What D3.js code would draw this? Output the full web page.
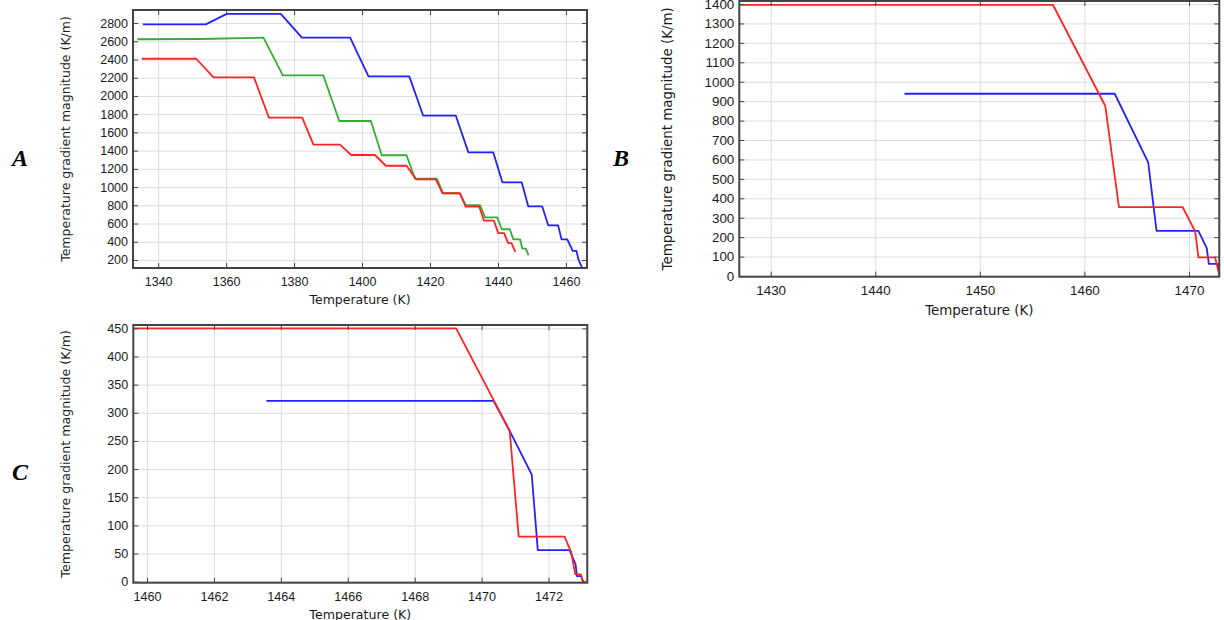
<!DOCTYPE html>
<html>
<head>
<meta charset="utf-8">
<script src="https://d3js.org/d3.v7.min.js"></script>
<style>
    body { margin:0; background:#fff; }
    svg { font-family:"DejaVu Sans", sans-serif; }
    .grid line { stroke:#dedede; stroke-width:1px; }
    .grid path { display:none; }
    .ticks line { stroke:#444; }
    .ticks path { display:none; }
    .ticks text { fill:#1a1a1a; }
    .frame { fill:none; stroke:#444; stroke-width:2px; }
    .series { fill:none; stroke-width:1.8px; stroke-linejoin:round; }
    .letter { font-family:"Liberation Serif", serif; font-weight:bold; font-style:italic; font-size:24px; }
</style>
</head>
<body>
<script>
// ---- panel A ----
const aXTicks = [1340, 1360, 1380, 1400, 1420, 1440, 1460];
const aYTicks = [200, 400, 600, 800, 1000, 1200, 1400, 1600, 1800, 2000, 2200, 2400, 2600, 2800];
const aBlue = [[1335.5, 2785], [1354.0, 2785], [1360.2, 2900], [1376.1, 2900], [1382.3, 2640], [1396.5, 2640],
    [1401.9, 2215], [1413.9, 2215], [1418.0, 1783], [1427.6, 1783], [1431.3, 1381], [1438.6, 1381],
    [1441.3, 1052], [1447.0, 1052], [1448.9, 789], [1453.0, 789], [1454.8, 580], [1457.7, 580],
    [1458.7, 427], [1460.4, 427], [1462.0, 300], [1463.1, 300], [1463.7, 205], [1464.7, 120]];
const aGreen = [[1333.9, 2622], [1352.4, 2625], [1371.0, 2639], [1376.7, 2226], [1388.6, 2226], [1393.3, 1725],
    [1402.6, 1725], [1405.8, 1349], [1413.1, 1349], [1415.6, 1092], [1422.0, 1092], [1423.9, 932],
    [1428.8, 932], [1430.5, 803], [1434.7, 803], [1436.2, 668], [1439.8, 668], [1441.1, 537],
    [1443.5, 537], [1444.5, 427], [1446.5, 427], [1447.2, 324], [1448.2, 324], [1449.0, 251]];
const aRed = [[1335.2, 2408], [1351.2, 2408], [1356.3, 2204], [1368.2, 2204], [1372.6, 1761], [1382.4, 1761],
    [1385.7, 1465], [1393.5, 1465], [1396.8, 1352], [1403.8, 1352], [1407.0, 1234], [1413.1, 1234],
    [1415.9, 1085], [1421.7, 1085], [1423.7, 932], [1428.8, 932], [1430.5, 785], [1434.5, 785],
    [1435.9, 631], [1438.8, 631], [1440.1, 495], [1441.8, 495], [1443.0, 385], [1444.0, 385], [1445.1, 290]];

// ---- panel B ----
const bXTicks = [1430, 1440, 1450, 1460, 1470];
const bYTicks = [0, 100, 200, 300, 400, 500, 600, 700, 800, 900, 1000, 1100, 1200, 1300, 1400];
const bBlue = [[1442.8, 938], [1462.9, 938], [1466.1, 585], [1466.9, 232], [1470.9, 232], [1471.7, 143],
    [1471.9, 62], [1472.8, 62], [1473.0, -5]];
const bRed = [[1427.0, 1395], [1457.0, 1395], [1462.0, 875], [1463.3, 354], [1469.4, 354], [1470.6, 228],
    [1470.9, 96], [1472.5, 96], [1472.9, 5], [1473.0, -5]];

// ---- panel C ----
const cXTicks = [1460, 1462, 1464, 1466, 1468, 1470, 1472];
const cYTicks = [0, 50, 100, 150, 200, 250, 300, 350, 400, 450];
const cBlue = [[1463.57, 321], [1470.36, 321], [1470.84, 268], [1471.50, 190], [1471.68, 56], [1472.63, 56],
    [1472.81, 31], [1472.85, 10], [1472.98, 10], [1473.04, -2]];
const cRed = [[1459.59, 450], [1469.24, 450], [1470.84, 268], [1471.11, 80], [1472.48, 80], [1472.68, 52],
    [1472.80, 13], [1472.96, 13], [1473.02, 2], [1473.10, -2]];

const W = 1224, H = 620;
const BLUE = "#2222ff", RED = "#ff2424", GREEN = "#34ad34";

const panels = [
    { id: "A", box: [133, 587, 10, 268], xDom: [1332.6, 1466.2], yDom: [112, 2943],
      xTicks: aXTicks, yTicks: aYTicks, font: 12.5, yTitleX: 70, xTitleDy: 36, letter: [12, 166],
      series: [[aBlue, BLUE], [aGreen, GREEN], [aRed, RED]] },
    { id: "B", box: [739.3, 1219.3, 1, 276.7], xDom: [1427.0, 1472.9], yDom: [-3.6, 1415.4],
      xTicks: bXTicks, yTicks: bYTicks, font: 13.4, yTitleX: 672, xTitleDy: 38, letter: [613, 166],
      series: [[bBlue, BLUE], [bRed, RED]] },
    { id: "C", box: [133.3, 587.3, 325, 582.7], xDom: [1459.59, 1473.16], yDom: [-1.8, 455.9],
      xTicks: cXTicks, yTicks: cYTicks, font: 12.6, yTitleX: 70, xTitleDy: 36, letter: [12, 480],
      series: [[cBlue, BLUE], [cRed, RED]] }
];

const svg = d3.select("body").append("svg")
    .attr("width", W)
    .attr("height", H);

function drawPanel(p) {
    const [x0, x1, y0, y1] = p.box;
    const x = d3.scaleLinear().domain(p.xDom).range([x0, x1]);
    const y = d3.scaleLinear().domain(p.yDom).range([y1, y0]);
    const g = svg.append("g").style("font-size", p.font + "px");

    // grid
    g.append("g").attr("class", "grid")
        .attr("transform", `translate(0,${y1})`)
        .call(d3.axisBottom(x).tickValues(p.xTicks).tickSize(-(y1 - y0)).tickFormat(""));
    g.append("g").attr("class", "grid")
        .attr("transform", `translate(${x0},0)`)
        .call(d3.axisLeft(y).tickValues(p.yTicks).tickSize(-(x1 - x0)).tickFormat(""));

    // data
    const clipId = "clip" + p.id;
    g.append("clipPath").attr("id", clipId)
        .append("rect").attr("x", x0).attr("y", y0).attr("width", x1 - x0).attr("height", y1 - y0);
    const line = d3.line().x(d => x(d[0])).y(d => y(d[1]));
    p.series.forEach(([data, color]) => {
        g.append("path")
            .attr("class", "series")
            .attr("clip-path", `url(#${clipId})`)
            .attr("stroke", color)
            .attr("d", line(data));
    });

    // inward ticks on all sides
    const fmt = d3.format("d");
    g.append("g").attr("class", "ticks")
        .attr("transform", `translate(0,${y1})`)
        .call(d3.axisBottom(x).tickValues(p.xTicks).tickSize(-5).tickPadding(9).tickFormat(fmt));
    g.append("g").attr("class", "ticks")
        .attr("transform", `translate(0,${y0})`)
        .call(d3.axisTop(x).tickValues(p.xTicks).tickSize(-5).tickFormat(""));
    g.append("g").attr("class", "ticks")
        .attr("transform", `translate(${x0},0)`)
        .call(d3.axisLeft(y).tickValues(p.yTicks).tickSize(-5).tickPadding(5).tickFormat(fmt));
    g.append("g").attr("class", "ticks")
        .attr("transform", `translate(${x1},0)`)
        .call(d3.axisRight(y).tickValues(p.yTicks).tickSize(-5).tickFormat(""));
    g.selectAll(".ticks text").style("font-size", p.font + "px");

    g.append("rect").attr("class", "frame")
        .attr("x", x0).attr("y", y0)
        .attr("width", x1 - x0).attr("height", y1 - y0);

    // titles
    g.append("text")
        .text("Temperature (K)")
        .attr("x", (x0 + x1) / 2)
        .attr("y", y1 + p.xTitleDy)
        .attr("text-anchor", "middle")
        .attr("fill", "#1a1a1a");
    g.append("text")
        .text("Temperature gradient magnitude (K/m)")
        .attr("text-anchor", "middle")
        .attr("fill", "#1a1a1a")
        .attr("transform", `translate(${p.yTitleX},${(y0 + y1) / 2}) rotate(-90)`);

    svg.append("text").attr("class", "letter")
        .text(p.id)
        .attr("x", p.letter[0])
        .attr("y", p.letter[1]);
}

panels.forEach(drawPanel);
</script>
</body>
</html>
